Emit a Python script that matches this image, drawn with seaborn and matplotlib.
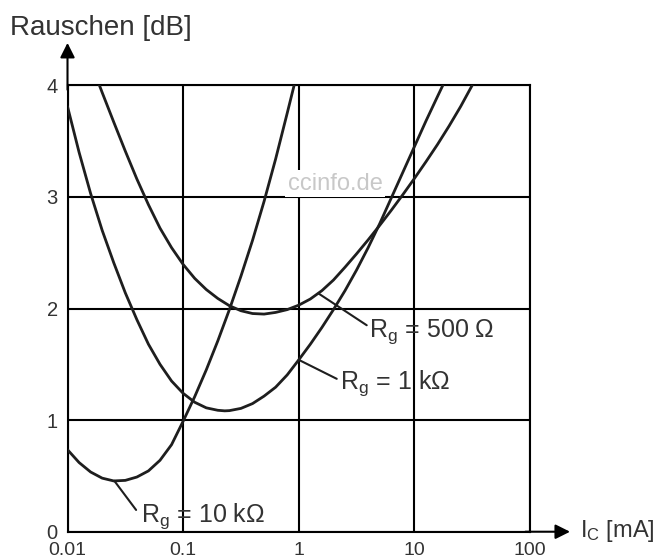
import numpy as np
import pandas as pd
import seaborn as sns
import matplotlib
matplotlib.use("Agg")
import matplotlib.pyplot as plt

# noise figure [dB] vs collector current [mA]
ic_10k = [0.01, 0.01259, 0.01585, 0.01995, 0.02512, 0.03162, 0.03981,
          0.05012, 0.0631, 0.07943, 0.1, 0.1259, 0.1585, 0.1995, 0.2512,
          0.3162, 0.3981, 0.5012, 0.631, 0.7943, 0.912]
nf_10k = [0.735, 0.62, 0.535, 0.48, 0.455, 0.46, 0.49,
          0.545, 0.64, 0.78, 0.99, 1.21, 1.45, 1.71, 1.99,
          2.29, 2.61, 2.96, 3.34, 3.75, 4.0]

ic_1k = [0.01, 0.01259, 0.01585, 0.01995, 0.02512, 0.03162, 0.03981,
         0.05012, 0.0631, 0.07943, 0.1, 0.1259, 0.1585, 0.1995, 0.2291,
         0.2512, 0.3162, 0.3981, 0.5012, 0.631, 0.7943, 1.0, 1.259,
         1.585, 1.995, 2.512, 3.162, 3.981, 5.012, 6.31, 7.943, 10.0,
         12.59, 15.85, 17.62]
nf_1k = [3.81, 3.40, 3.03, 2.70, 2.41, 2.14, 1.90,
         1.68, 1.50, 1.35, 1.24, 1.16, 1.11, 1.088, 1.083,
         1.085, 1.105, 1.148, 1.215, 1.295, 1.405, 1.54, 1.68,
         1.83, 1.99, 2.16, 2.345, 2.545, 2.76, 2.99, 3.22, 3.45,
         3.68, 3.90, 4.0]

ic_500 = [0.01888, 0.01995, 0.02512, 0.03162, 0.03981, 0.05012, 0.0631,
          0.07943, 0.1, 0.1259, 0.1585, 0.1995, 0.2512, 0.3162, 0.3981,
          0.5012, 0.631, 0.7943, 1.0, 1.259, 1.585, 1.995, 2.512, 3.162,
          3.981, 5.012, 6.31, 7.943, 10.0, 12.59, 15.85, 19.95, 25.12, 31.62]
nf_500 = [4.0, 3.935, 3.67, 3.41, 3.16, 2.93, 2.72,
          2.545, 2.395, 2.27, 2.17, 2.09, 2.025, 1.98, 1.955,
          1.95, 1.965, 1.99, 2.03, 2.085, 2.16, 2.255, 2.37, 2.49,
          2.615, 2.745, 2.88, 3.02, 3.165, 3.315, 3.47, 3.635, 3.81, 4.0]

x_ticks = [0.01, 0.1, 1, 10, 100]
x_tick_labels = ["0.01", "0.1", "1", "10", "100"]
y_ticks = [0, 1, 2, 3, 4]

# curve labels: text, point on curve, end of leader, text anchor (left/baseline)
labels = [
    (r"R$_\mathregular{g}$ = 10 k$\Omega$", (0.0254, 0.456), (0.0392, 0.195), (0.0432, 0.09)),
    (r"R$_\mathregular{g}$ = 500 $\Omega$", (1.48, 2.135), (3.87, 1.85), (4.08, 1.75)),
    (r"R$_\mathregular{g}$ = 1 k$\Omega$", (1.0, 1.54), (2.13, 1.37), (2.28, 1.277)),
]

df = pd.concat([
    pd.DataFrame({"Ic": ic_10k, "NF": nf_10k, "Rg": "10k"}),
    pd.DataFrame({"Ic": ic_1k, "NF": nf_1k, "Rg": "1k"}),
    pd.DataFrame({"Ic": ic_500, "NF": nf_500, "Rg": "500"}),
])

sns.set_theme(style="white")
plt.rcParams["font.family"] = ["Liberation Sans", "DejaVu Sans"]
plt.rcParams["mathtext.fontset"] = "custom"
plt.rcParams["mathtext.rm"] = "Liberation Sans"
plt.rcParams["mathtext.it"] = "Liberation Sans"

text_col = "#333333"
line_col = "#1e1e1e"

fig = plt.figure(figsize=(6.71, 5.6), dpi=100)
fig.subplots_adjust(left=0.1006, right=0.7899, bottom=0.0505, top=0.8477)
ax = fig.add_subplot(111)

sns.lineplot(data=df, x="Ic", y="NF", units="Rg", estimator=None,
             color=line_col, lw=2.0, ax=ax, zorder=4)

ax.set_xscale("log")
ax.set_xlim(0.01, 100)
ax.set_ylim(0, 4)
ax.set_xticks(x_ticks)
ax.set_xticklabels(x_tick_labels)
ax.set_yticks(y_ticks)
ax.minorticks_off()
ax.set_xlabel("")
ax.set_ylabel("")

ax.grid(True, color="black", lw=1.5)
for s in ax.spines.values():
    s.set_color("black")
    s.set_linewidth(1.5)
ax.tick_params(axis="both", direction="out", length=4, width=1.5,
               colors="black", labelcolor=text_col, labelsize=14.5)
ax.tick_params(axis="x", pad=3.2, labelsize=14)
ax.tick_params(axis="y", pad=3)

# axis arrows
ax.annotate("", xy=(0, 1.095), xytext=(0, 0.99), xycoords="axes fraction",
            arrowprops=dict(arrowstyle="-|>", lw=1.5, color="black",
                            mutation_scale=22, shrinkA=0, shrinkB=0))
ax.annotate("", xy=(1.0865, 0), xytext=(0.99, 0), xycoords="axes fraction",
            arrowprops=dict(arrowstyle="-|>", lw=1.5, color="black",
                            mutation_scale=22, shrinkA=0, shrinkB=0))

# leaders and curve labels
for txt, p0, p1, pt in labels:
    ax.plot([p0[0], p1[0]], [p0[1], p1[1]], color=line_col, lw=1.5, zorder=4)
    ax.text(pt[0], pt[1], txt, ha="left", va="baseline", fontsize=18,
            color=text_col, zorder=5)

# watermark
ax.text(2.06, 3.12, "ccinfo.de", ha="center", va="center", fontsize=17,
        color="#c8c8c8", zorder=3,
        bbox=dict(facecolor="white", edgecolor="none", pad=1.5))

fig.text(10 / 671, 1 - 35 / 560, "Rauschen [dB]", ha="left", va="baseline",
         fontsize=20, color=text_col)
fig.text(580 / 671, 1 - 536.7 / 560, r"I$_\mathregular{C}$ [mA]", ha="left",
         va="baseline", fontsize=17, color=text_col)

fig.savefig("out.png", dpi=100)
